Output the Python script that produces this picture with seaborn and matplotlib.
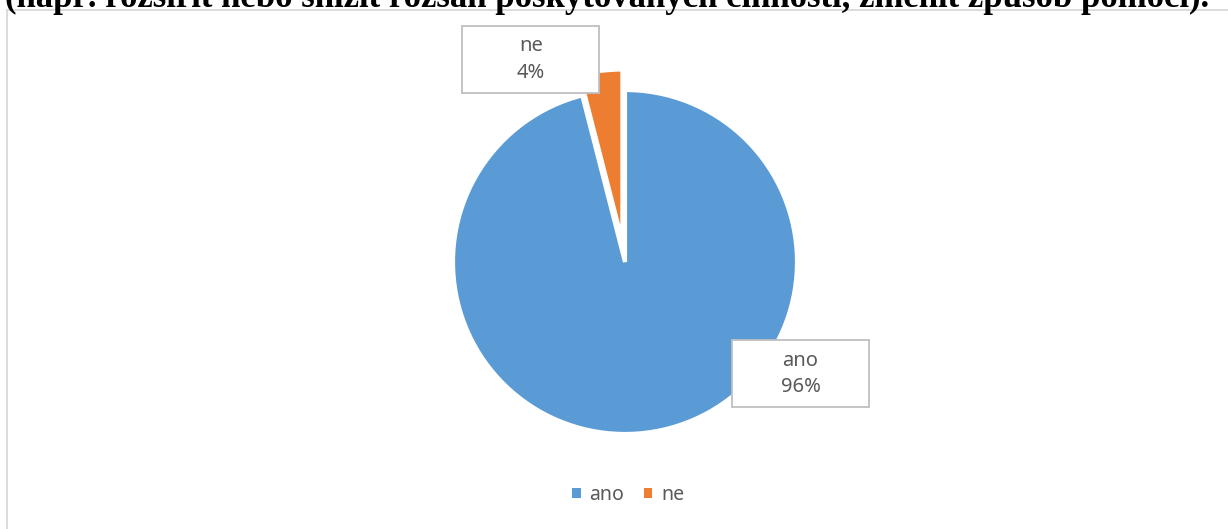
import matplotlib
matplotlib.use("Agg")
import matplotlib.pyplot as plt
from matplotlib.patches import Rectangle, Patch
import seaborn as sns

# Survey answers
categories = ["ano", "ne"]
shares = [96, 4]
label_texts = ["ano\n96%", "ne\n4%"]
question = "(např. rozšířit nebo snížit rozsah poskytovaných činností, změnit způsob pomoci)."

sns.set_theme(style="white")
plt.rcParams["font.family"] = ["Noto Sans", "DejaVu Sans"]

colors = ["#5B9BD5", "#ED7D31"]
text_color = "#595959"

W, H = 1228, 529
fig = plt.figure(figsize=(W / 100, H / 100), dpi=100)
fig.patch.set_facecolor("white")

# Heading line from the surrounding document (cut at the top edge)
fig.text(5 / W, 1 - 7 / H, question, family="Liberation Serif", weight="bold",
         fontsize=25, color="black", ha="left", va="baseline")

# Chart area frame
fig.patches.append(Rectangle((6.5 / W, -0.1), 1.2, 1.1 - 9.5 / H,
                             transform=fig.transFigure, fill=False,
                             edgecolor="#d9d9d9", linewidth=1.3, zorder=0))

# Pie axes: unit radius = 172 px, centred at (625, 262)
R = 172
cx, cy = 625, H - 262
half = 1.5 * R
ax = fig.add_axes([(cx - half) / W, (cy - half) / H, 2 * half / W, 2 * half / H])
wedges, _ = ax.pie(shares, colors=colors, startangle=90, counterclock=False,
                   explode=[0, 0.12],
                   wedgeprops=dict(edgecolor="white", linewidth=3))
ax.set_xlim(-1.5, 1.5)
ax.set_ylim(-1.5, 1.5)
ax.set_aspect("equal")
ax.axis("off")

# Data label boxes
label_pos = [(1.020, -0.651), (-0.547, 1.177)]
box_w, box_h = 137 / R, 67 / R
for (lx, ly), txt in zip(label_pos, label_texts):
    ax.add_patch(Rectangle((lx - box_w / 2, ly - box_h / 2), box_w, box_h,
                           facecolor="white", edgecolor="#bfbfbf",
                           linewidth=1.3, zorder=5, clip_on=False))
    ax.text(lx, ly, txt, ha="center", va="center", fontsize=14.5,
            color=text_color, linespacing=1.45, zorder=6)

# Legend below the pie
handles = [Patch(facecolor=c, edgecolor="none") for c in colors]
fig.legend(handles, categories, loc="center", bbox_to_anchor=(628 / W, 1 - 495 / H),
           ncol=2, frameon=False, fontsize=14, handlelength=0.45, handleheight=0.45,
           handletextpad=0.45, columnspacing=1.0, labelcolor=text_color)

fig.savefig("out.png", dpi=100, facecolor="white")
